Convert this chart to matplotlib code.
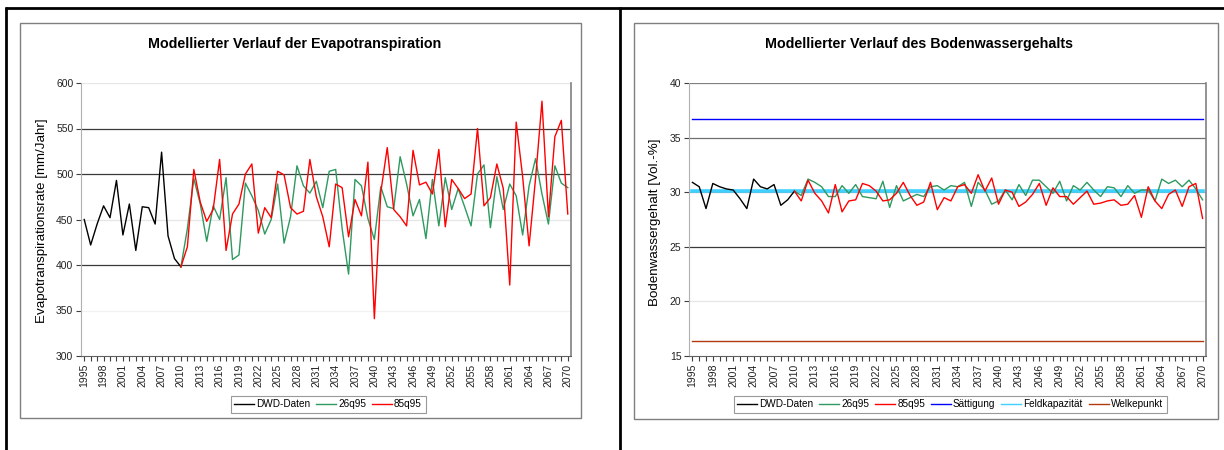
import matplotlib
matplotlib.use('Agg')
import matplotlib.pyplot as plt
from matplotlib.lines import Line2D
from matplotlib.patches import Rectangle

plt.rcParams['font.family'] = ['Liberation Sans', 'DejaVu Sans']

# Jahre (Kategorien der x-Achse)
jahre = list(range(1995, 2071))
jahre_dwd = list(range(1995, 2011))
jahre_szen = list(range(2010, 2071))
tick_jahre = list(range(1995, 2071, 3))

# Evapotranspiration [mm/Jahr]
et_dwd = [450, 422, 445, 465, 452, 493, 433, 467, 416, 464, 463, 445, 524, 432, 407, 398]
et_26q95 = [398, 440, 495, 467, 426, 465, 450, 496, 406, 411,
            490, 476, 460, 434, 450, 489, 424, 453, 509, 487,
            479, 492, 463, 503, 505, 440, 390, 494, 487, 451,
            428, 486, 464, 462, 519, 489, 454, 472, 429, 494,
            443, 496, 461, 484, 464, 443, 500, 510, 441, 497,
            461, 489, 476, 433, 487, 517, 478, 445, 509, 490,
            485]
et_85q95 = [398, 420, 505, 469, 448, 461, 516, 416, 456, 467,
            500, 511, 435, 463, 452, 503, 499, 463, 456, 459,
            516, 475, 453, 420, 489, 485, 431, 472, 454, 513,
            341, 480, 529, 461, 453, 443, 526, 488, 491, 478,
            527, 442, 494, 484, 473, 478, 550, 465, 474, 511,
            484, 378, 557, 497, 421, 495, 580, 453, 541, 559,
            456]

# Bodenwassergehalt [Vol.-%]
bw_dwd = [30.9, 30.5, 28.5, 30.8, 30.5, 30.3, 30.2, 29.4, 28.5, 31.2, 30.5, 30.3, 30.7, 28.8, 29.3, 30.1]
bw_26q95 = [30.1, 29.7, 31.2, 30.9, 30.5, 29.6, 29.6, 30.6, 29.9, 30.7,
            29.6, 29.5, 29.4, 31.0, 28.6, 30.6, 29.2, 29.5, 29.8, 29.6,
            30.5, 30.6, 30.2, 30.6, 30.5, 30.9, 28.7, 30.9, 30.2, 28.9,
            29.2, 30.2, 29.3, 30.7, 29.7, 31.1, 31.1, 30.5, 29.9, 31.0,
            29.2, 30.6, 30.2, 30.9, 30.2, 29.6, 30.5, 30.4, 29.6, 30.6,
            29.9, 30.2, 30.2, 29.2, 31.2, 30.8, 31.1, 30.5, 31.1, 30.3,
            29.3]
bw_85q95 = [30.1, 29.2, 31.1, 29.9, 29.2, 28.1, 30.7, 28.2, 29.2, 29.3,
            30.8, 30.6, 30.1, 29.2, 29.3, 29.9, 30.9, 29.7, 28.8, 29.1,
            30.9, 28.4, 29.5, 29.2, 30.5, 30.7, 29.9, 31.6, 30.1, 31.3,
            28.9, 30.2, 30.0, 28.7, 29.1, 29.8, 30.8, 28.8, 30.4, 29.6,
            29.6, 28.9, 29.5, 30.1, 28.9, 29.0, 29.2, 29.3, 28.8, 28.9,
            29.7, 27.7, 30.5, 29.2, 28.5, 29.8, 30.2, 28.7, 30.5, 30.8,
            27.6]
saettigung = 36.7
feldkapazitaet = 30.1
welkepunkt = 16.4

W, H = 1224, 450
fig = plt.figure(figsize=(W / 100, H / 100), dpi=100)


def fx(px):
    return px / W


def fy(py):
    return 1 - py / H


def rahmen(x0, y0, x1, y1, farbe, lw):
    fig.patches.append(Rectangle((fx(x0), fy(y1)), fx(x1 - x0), (y1 - y0) / H,
                                 transform=fig.transFigure, fill=False,
                                 edgecolor=farbe, linewidth=lw))


def linie(xs, ys, farbe, lw):
    fig.lines.append(Line2D([fx(x) for x in xs], [fy(y) for y in ys],
                            transform=fig.transFigure, color=farbe, linewidth=lw,
                            solid_capstyle='butt'))


# schwarze Tabellenrahmen + graue Diagrammrahmen
linie([5, W], [7.5, 7.5], 'black', 2.0)
linie([6, 6], [7, H], 'black', 2.0)
linie([620, 620], [7, H], 'black', 2.0)
rahmen(20, 23, 581, 418, '#7f7f7f', 1.0)
rahmen(634, 23, 1218, 419, '#7f7f7f', 1.0)


def achse(x0, x1, ymin, ymax, schritt, gitter):
    ax = fig.add_axes([fx(x0), fy(356), fx(x1 - x0), (356 - 83) / H])
    ax.set_xlim(1994.5, 2070.5)
    ax.set_ylim(ymin, ymax)
    for wert, farbe in gitter:
        ax.axhline(wert, color=farbe, linewidth=0.9, zorder=1)
    ax.set_yticks([ymin + i * schritt for i in range(int((ymax - ymin) / schritt) + 1)])
    ax.set_xticks(jahre)
    ax.set_xticklabels([str(j) if j in tick_jahre else '' for j in jahre], rotation=90)
    ax.tick_params(axis='both', direction='out', length=3.5, width=0.8,
                   colors='#404040', labelsize=7.5, labelcolor='#222222', pad=2)
    ax.spines['top'].set_visible(False)
    ax.spines['left'].set_color('#b0b0b0')
    ax.spines['bottom'].set_color('#606060')
    ax.spines['right'].set_color('#808080')
    ax.spines['right'].set_linewidth(1.2)
    return ax


# --- links: Evapotranspiration ---
ax1 = achse(81, 571, 300, 600, 50,
            [(600, '#e6e6e6'), (550, '#3a3a3a'), (500, '#3a3a3a'),
             (450, '#e6e6e6'), (400, '#3a3a3a'), (350, '#f2f2f2')])
ax1.plot(jahre_dwd, et_dwd, color='black', lw=1.0, label='DWD-Daten', zorder=3)
ax1.plot(jahre_szen, et_26q95, color='#2e9960', lw=1.0, label='26q95', zorder=3)
ax1.plot(jahre_szen, et_85q95, color='#ff0000', lw=1.0, label='85q95', zorder=4)
fig.text(fx(295), fy(44), 'Modellierter Verlauf der Evapotranspiration',
         ha='center', va='center', fontsize=10.3, fontweight='bold')
fig.text(fx(42), fy(221), 'Evapotranspirationsrate [mm/Jahr]', rotation=90,
         ha='center', va='center', fontsize=9.6)
leg1 = fig.legend(handles=ax1.get_lines()[-3:], loc='center', ncol=3,
                  bbox_to_anchor=(fx(328), fy(404)), fontsize=7.2, frameon=True,
                  fancybox=False, edgecolor='#808080', handlelength=2.0,
                  handletextpad=0.2, columnspacing=0.6, borderpad=0.35)
leg1.get_frame().set_linewidth(0.8)

# --- rechts: Bodenwassergehalt ---
ax2 = achse(689, 1206, 15, 40, 5,
            [(40, '#808080'), (35, '#707070'), (30, '#a0a0a0'),
             (25, '#3a3a3a'), (20, '#e6e6e6')])
ax2.plot(jahre_dwd, bw_dwd, color='black', lw=1.0, label='DWD-Daten', zorder=4)
ax2.plot(jahre_szen, bw_26q95, color='#2e9960', lw=1.0, label='26q95', zorder=4)
ax2.plot(jahre_szen, bw_85q95, color='#ff0000', lw=1.0, label='85q95', zorder=5)
ax2.plot(jahre, [saettigung] * len(jahre), color='#0000ff', lw=1.0,
         label='Sättigung', zorder=3)
ax2.plot(jahre, [feldkapazitaet] * len(jahre), color='#40d0ff', lw=2.6,
         label='Feldkapazität', zorder=3)
ax2.plot(jahre, [welkepunkt] * len(jahre), color='#b23a10', lw=1.0,
         label='Welkepunkt', zorder=3)
fig.text(fx(919), fy(44), 'Modellierter Verlauf des Bodenwassergehalts',
         ha='center', va='center', fontsize=10.3, fontweight='bold')
fig.text(fx(655), fy(222), 'Bodenwassergehalt [Vol.-%]', rotation=90,
         ha='center', va='center', fontsize=9.6)
handles2 = ax2.get_lines()[-6:]
leg2 = fig.legend(handles=handles2, loc='center', ncol=6,
                  bbox_to_anchor=(fx(950), fy(404)), fontsize=7.2, frameon=True,
                  fancybox=False, edgecolor='#808080', handlelength=2.0,
                  handletextpad=0.2, columnspacing=0.6, borderpad=0.35)
leg2.get_frame().set_linewidth(0.8)
for h in leg2.get_lines():
    h.set_linewidth(1.0)

fig.savefig('out.png', dpi=100)
